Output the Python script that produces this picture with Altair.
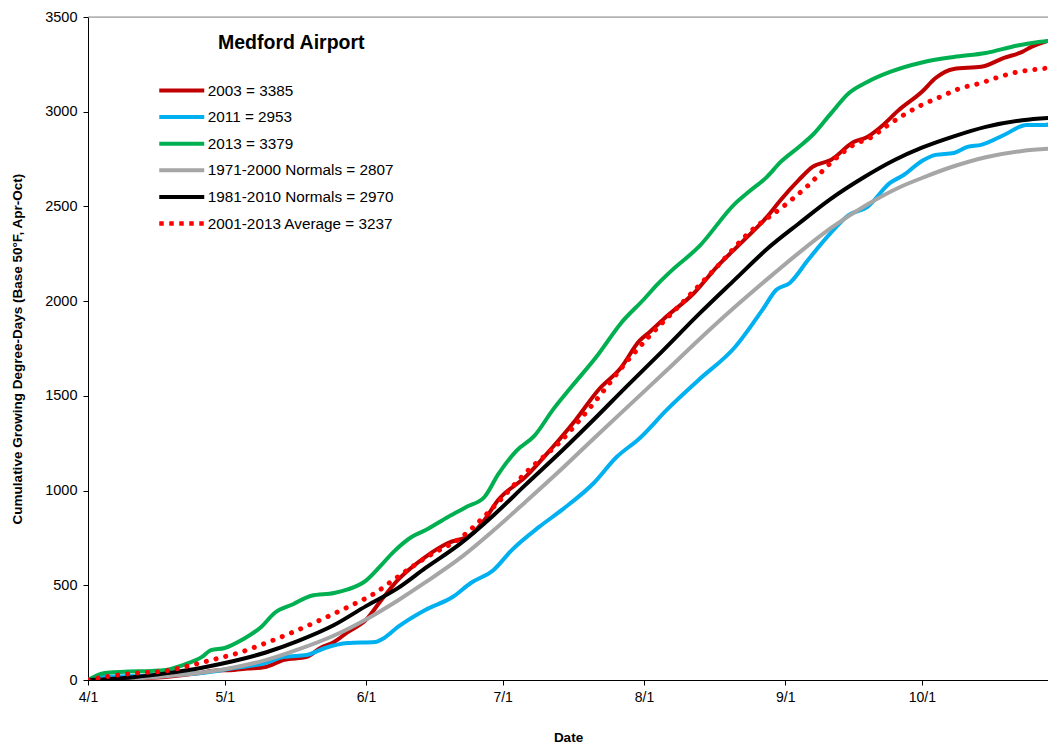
import altair as alt
import pandas as pd

FONT = "Liberation Sans"
START = pd.Timestamp("2013-04-01")

# ---- series (days after Apr 1, cumulative GDD) ----
y2003_days = [0, 10, 17, 24, 28, 32, 35, 39, 43, 48, 51, 54, 57, 61, 64, 68, 74, 79, 84, 87,
              90, 96, 102, 107, 112, 117, 121, 123, 127, 133, 138, 144, 149, 152, 156, 159, 163,
              168, 171, 174, 178, 183, 186, 190, 196, 201, 205, 207, 210, 213]
y2003_gdd = [0, 8, 16, 35, 50, 53, 60, 69, 106, 122, 169, 201, 253, 317, 410, 528, 649, 723, 766, 845,
             950, 1072, 1230, 1373, 1531, 1650, 1790, 1832, 1920, 2043, 2181, 2323, 2445, 2534, 2640, 2709, 2745,
             2840, 2867, 2920, 3010, 3105, 3178, 3226, 3237, 3284, 3316, 3342, 3369, 3385]

y2011_days = [0, 3, 17, 25, 32, 39, 43, 48, 52, 57, 63, 65, 68, 74, 80, 84, 89, 93, 99, 104,
              111, 116, 121, 127, 134, 142, 148, 151, 154, 158, 163, 167, 171, 176, 179, 183,
              186, 190, 193, 196, 201, 206, 210, 213]
y2011_gdd = [0, 16, 26, 37, 63, 90, 122, 132, 169, 195, 201, 222, 280, 370, 438, 512, 581, 686, 808, 898,
             1040, 1177, 1275, 1426, 1584, 1758, 1954, 2059, 2096, 2217, 2360, 2455, 2497, 2624, 2666, 2740,
             2772, 2782, 2814, 2825, 2877, 2930, 2930, 2953]

y2013_days = [0, 2, 3, 5, 9, 14, 17, 21, 25, 27, 30, 34, 38, 41, 45, 49, 54, 57, 61, 64,
              67, 71, 74, 79, 83, 87, 90, 94, 98, 102, 106, 112, 117, 122, 125, 128, 134, 142,
              145, 149, 152, 156, 159, 163, 167, 171, 176, 183, 190, 197, 204, 209, 213]
y2013_gdd = [0, 25, 33, 40, 45, 48, 53, 80, 122, 158, 169, 215, 280, 355, 400, 445, 459, 478, 525, 597,
             675, 755, 790, 861, 913, 966, 1085, 1210, 1290, 1426, 1545, 1720, 1885, 2010, 2090, 2160, 2286, 2515,
             2577, 2656, 2735, 2814, 2877, 2990, 3099, 3157, 3210, 3260, 3289, 3310, 3350, 3369, 3379]

n7100_days = [0, 10, 17, 25, 32, 39, 46, 54, 61, 68, 74, 82, 89, 96, 104, 111, 119, 127, 134, 142,
              149, 156, 163, 171, 178, 183, 190, 197, 205, 213]
n7100_gdd = [0, 8, 20, 40, 66, 105, 160, 235, 320, 420, 515, 650, 790, 940, 1115, 1275, 1455, 1635, 1795, 1970,
             2115, 2255, 2385, 2510, 2600, 2650, 2712, 2760, 2793, 2807]

n8110_days = [0, 10, 17, 25, 32, 39, 46, 54, 61, 68, 74, 82, 89, 96, 104, 111, 118, 126, 134, 142,
              149, 156, 163, 170, 177, 183, 190, 197, 205, 213]
n8110_gdd = [0, 15, 35, 65, 100, 145, 205, 290, 390, 485, 590, 725, 870, 1030, 1210, 1375, 1545, 1735, 1930, 2115,
             2275, 2410, 2540, 2650, 2745, 2810, 2870, 2920, 2955, 2970]

avg_days = [0, 5, 11, 17, 22, 28, 33, 39, 45, 51, 57, 63, 67, 74, 82, 89, 96, 104, 111, 118,
            123, 131, 138, 145, 153, 158, 163, 168, 172, 175, 179, 183, 187, 191, 196, 200, 204, 209, 213]
avg_gdd = [0, 21, 37, 48, 74, 111, 143, 195, 253, 317, 385, 459, 528, 644, 755, 913, 1093, 1267, 1462, 1674,
           1810, 2006, 2181, 2360, 2508, 2610, 2730, 2825, 2867, 2920, 2983, 3036, 3078, 3120, 3152, 3184, 3210, 3226, 3237]

labels = ["2003 = 3385", "2011 = 2953", "2013 = 3379",
          "1971-2000 Normals = 2807", "1981-2010 Normals = 2970", "2001-2013 Average = 3237"]
colors = ["#C00000", "#00B0F0", "#00B050", "#A6A6A6", "#000000", "#FF0000"]
widths = [4, 4, 4.5, 3, 3, 5]

x_ticks = [4, 5, 6, 7, 8, 9, 10]          # month starts
y_ticks = [0, 500, 1000, 1500, 2000, 2500, 3000, 3500]


def frame(name, days, vals):
    dates = (START + pd.to_timedelta(days, unit="D")).strftime("%Y-%m-%d")
    return pd.DataFrame({"date": dates, "gdd": vals, "series": name})


df_solid = pd.concat([frame(labels[0], y2003_days, y2003_gdd), frame(labels[1], y2011_days, y2011_gdd),
                      frame(labels[2], y2013_days, y2013_gdd), frame(labels[3], n7100_days, n7100_gdd),
                      frame(labels[4], n8110_days, n8110_gdd)], ignore_index=True)
df_avg = frame(labels[5], avg_days, avg_gdd)

# legend geometry
SYM_HALF = 22.5                       # half length of the legend line symbol
ROW_STEP = 26.6
LEG_X, LEG_Y = 72, 60
common_leg = dict(
    orient="none", legendX=LEG_X, title=None, padding=0,
    labelFont=FONT, labelFontSize=15.3, labelColor="black", labelLimit=0,
    symbolType="M-2,0L2,0", symbolSize=SYM_HALF ** 2,
    symbolOffset=SYM_HALF / 2 - 3, labelOffset=SYM_HALF - 10,
    rowPadding=ROW_STEP - 22,
)
leg_solid = alt.Legend(legendY=LEG_Y, **common_leg)
leg_avg = alt.Legend(legendY=LEG_Y + 5 * ROW_STEP, symbolDash=[4.5, 5.5], symbolStrokeWidth=4.5, **common_leg)

x_axis = alt.Axis(
    values=[alt.DateTime(year=2013, month=m, date=1, utc=True) for m in x_ticks],
    format="%-m/%-d", title="Date", grid=False,
    labelFont=FONT, labelFontSize=14, labelColor="black", labelPadding=5, labelFlush=False,
    labelOverlap=False, tickSize=5, tickColor="black", domainColor="black",
    titleFont=FONT, titleFontSize=13.5, titleFontWeight="bold", titleColor="black", titlePadding=26,
)
y_axis = alt.Axis(
    values=y_ticks, format="d", grid=False,
    title="Cumulative Growing Degree-Days (Base 50°F, Apr-Oct)",
    labelFont=FONT, labelFontSize=14.5, labelColor="black", labelPadding=6,
    tickSize=5, tickColor="black", domainColor="black",
    titleFont=FONT, titleFontSize=13.5, titleFontWeight="bold", titleColor="black", titlePadding=20,
)
x_enc = alt.X("date:T", axis=x_axis, scale=alt.Scale(
    type="utc",
    domain=[alt.DateTime(year=2013, month=4, date=1, utc=True),
            alt.DateTime(year=2013, month=10, date=28, hours=16, utc=True)]))
y_enc = alt.Y("gdd:Q", axis=y_axis, scale=alt.Scale(domain=[0, 3500], nice=False))

solid = alt.Chart(df_solid).mark_line(
    strokeCap="round", strokeJoin="round", interpolate="monotone", clip=True
).encode(
    x=x_enc, y=y_enc,
    color=alt.Color("series:N", scale=alt.Scale(domain=labels[:5], range=colors[:5]), legend=leg_solid),
    strokeWidth=alt.StrokeWidth("series:N", scale=alt.Scale(domain=labels[:5], range=widths[:5]),
                                legend=leg_solid),
)

avg = alt.Chart(df_avg).mark_line(
    strokeCap="round", strokeWidth=widths[5], interpolate="monotone", clip=True
).encode(
    x=x_enc, y=y_enc,
    color=alt.Color("series:N", scale=alt.Scale(domain=labels[5:], range=colors[5:]), legend=leg_avg),
    strokeDash=alt.StrokeDash("series:N", scale=alt.Scale(domain=labels[5:], range=[[0.1, 9.9]]),
                              legend=None),
)

top = alt.Chart(pd.DataFrame({"edge": [y_ticks[-1]]})).mark_rule(
    color="#8C8C8C", strokeWidth=1
).encode(y=alt.Y("edge:Q"))

chart = alt.layer(solid, avg, top).resolve_scale(
    color="independent", strokeWidth="independent"
).properties(
    width=960, height=663,
    padding={"left": 80, "top": 9, "right": 0, "bottom": 64},
    autosize=alt.AutoSizeParams(type="none"),
    title=alt.TitleParams(
        "Medford Airport", anchor="start", frame="group", orient="top", offset=0,
        dx=130, dy=59, baseline="alphabetic",
        font=FONT, fontSize=19.5, fontWeight="bold", color="black",
    ),
).configure_view(stroke=None).configure(font=FONT)

chart.save("out.html", embed_options={"renderer": "svg", "actions": False})
